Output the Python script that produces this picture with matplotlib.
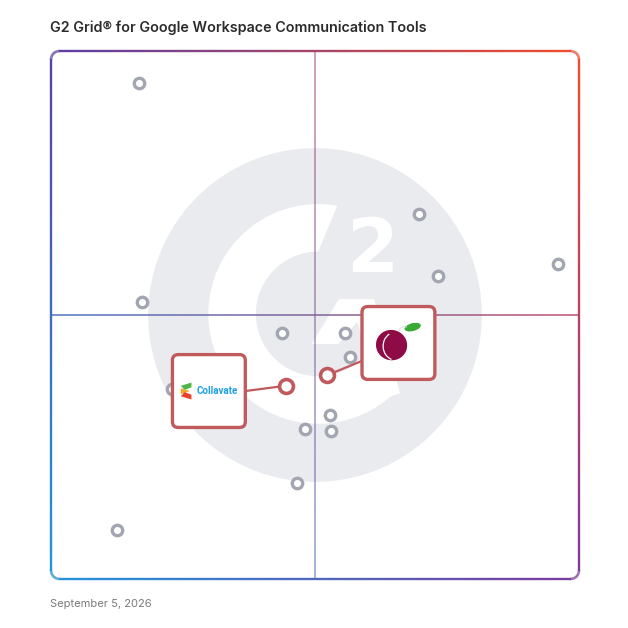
import numpy as np
import matplotlib.pyplot as plt
from matplotlib.patches import Circle, Polygon, FancyBboxPatch, Ellipse, Arc
from matplotlib.collections import LineCollection
from matplotlib.colors import to_rgb

# G2 grid: satisfaction (x) vs market presence (y), 0-100 scale
other_x = [16.7, 69.7, 96.0, 73.3, 17.2, 43.8, 55.7, 56.6, 52.8, 48.1, 53.0, 46.6, 12.5, 23.0]
other_y = [93.9, 69.1, 59.7, 57.4, 52.5, 46.6, 46.6, 42.0, 31.1, 28.4, 28.0, 18.2, 9.3, 36.0]

highlight_names = ["Collavate", "Plum"]
highlight_x = [44.5, 52.3]
highlight_y = [36.6, 38.6]

title = "G2 Grid\u00ae for Google Workspace Communication Tools"
date_label = "September 5, 2026"

red = "#c05a5c"
grey_pt = "#a2a6b1"
logo_bg = "#e9ebef"

fig = plt.figure(figsize=(6.28, 6.28), dpi=100)
ax = fig.add_axes([51 / 628, 49 / 628, 528 / 628, 528 / 628])
ax.set_xlim(0, 100)
ax.set_ylim(0, 100)
ax.axis("off")

# corner colours of the gradient frame
c_tl = np.array(to_rgb("#5a3fa6"))
c_tr = np.array(to_rgb("#f24c2c"))
c_bl = np.array(to_rgb("#2196dc"))
c_br = np.array(to_rgb("#7d3a9e"))

def grad_color(x, y):
    u = np.clip(x / 100, 0, 1)
    v = np.clip(y / 100, 0, 1)
    top = c_tl * (1 - u) + c_tr * u
    bot = c_bl * (1 - u) + c_br * u
    return bot * (1 - v) + top * v

def grad_line(xs, ys, lw, alpha=1.0, z=3):
    pts = np.column_stack([xs, ys])
    segs = np.stack([pts[:-1], pts[1:]], axis=1)
    mids = (pts[:-1] + pts[1:]) / 2
    cols = [tuple(grad_color(mx, my)) + (alpha,) for mx, my in mids]
    lc = LineCollection(segs, colors=cols, linewidths=lw, zorder=z, clip_on=False,
                        capstyle="butt")
    ax.add_collection(lc)

# background G2 logo
ax.add_patch(Circle((50, 50), 31.6, color=logo_bg, zorder=0, lw=0))
cx, cy, r_out, r_in = 50.6, 50.2, 20.8, 11.8
a_out = np.radians(np.linspace(80, 312, 120))
a_in = np.radians(np.linspace(312, 90, 120))
ring = np.vstack([np.column_stack([cx + r_out * np.cos(a_out), cy + r_out * np.sin(a_out)]),
                  np.column_stack([cx + r_in * np.cos(a_in), cy + r_in * np.sin(a_in)])])
ax.add_patch(Polygon(ring, closed=True, color="white", zorder=0.5, lw=0))
ax.add_patch(Polygon([(49.4, 44.5), (54.5, 53.0), (61.2, 53.0), (66.1, 35.2),
                      (62.5, 33.9), (58.0, 48.7), (54.4, 44.5)],
                     closed=True, color="white", zorder=0.5, lw=0))
ax.text(60.8, 62.0, "2", color="white", fontsize=54, fontweight="bold",
        ha="center", va="center", zorder=0.6, family="DejaVu Sans")

# crosshair
t = np.linspace(0, 100, 200)
grad_line(np.full_like(t, 50), t, 1.2, alpha=0.6, z=1)
grad_line(t, np.full_like(t, 50), 1.2, alpha=0.85, z=1)

# rounded gradient frame
r = 1.6
path = []
corners = [((100 - r, 100 - r), 0, 90), ((r, 100 - r), 90, 180),
           ((r, r), 180, 270), ((100 - r, r), 270, 360)]
for (kx, ky), a0, a1 in corners:
    ang = np.radians(np.linspace(a0, a1, 12))
    path.append(np.column_stack([kx + r * np.cos(ang), ky + r * np.sin(ang)]))
path = np.vstack(path + [path[0][:1]])
xs, ys = [], []
for i in range(len(path) - 1):
    seg = np.linspace(path[i], path[i + 1], 30, endpoint=False)
    xs.extend(seg[:, 0])
    ys.extend(seg[:, 1])
xs.append(path[-1, 0])
ys.append(path[-1, 1])
grad_line(np.array(xs), np.array(ys), 1.7, z=3)

# other products
ax.plot(other_x, other_y, "o", ms=7.5, mfc="white", mec=grey_pt, mew=2.4, zorder=4, ls="none")

# highlighted products with label boxes
box_offsets = [(-14.6, -1.0), (13.5, 6.1)]
box_half = 6.9
for name, hx, hy, (dx, dy) in zip(highlight_names, highlight_x, highlight_y, box_offsets):
    bx, by = hx + dx, hy + dy
    ex = bx + box_half if dx < 0 else bx - box_half
    ey = by if dx < 0 else by - 3.4
    ax.plot([ex, hx], [ey, hy], color=red, lw=1.6, zorder=5, solid_capstyle="butt")
    ax.plot(hx, hy, "o", ms=10, mfc="white", mec=red, mew=2.6, zorder=7)
    ax.add_patch(FancyBboxPatch((bx - box_half, by - box_half), 2 * box_half, 2 * box_half,
                                boxstyle="round,pad=0,rounding_size=1.1",
                                fc="white", ec=red, lw=2.4, zorder=6))
    if name == "Collavate":
        ix, iy = bx - 4.3, by
        ax.add_patch(Polygon([(ix - 1.0, iy + 1.0), (ix + 1.0, iy + 1.6), (ix + 1.0, iy + 0.7),
                              (ix - 0.3, iy + 0.2)], color="#4cb748", zorder=7, lw=0))
        ax.add_patch(Polygon([(ix - 1.0, iy + 0.5), (ix + 0.7, iy), (ix - 1.0, iy - 0.6)],
                             color="#f5a623", zorder=7, lw=0))
        ax.add_patch(Polygon([(ix - 0.3, iy - 0.2), (ix + 1.0, iy - 0.7), (ix + 1.0, iy - 1.6),
                              (ix - 1.0, iy - 1.0)], color="#e8442c", zorder=7, lw=0))
        ax.text(bx + 1.5, by, "Collavate", color="#1ea0e6", fontsize=7, fontweight="bold",
                ha="center", va="center", zorder=7, family="Roboto")
    else:
        px, py = bx - 1.3, by - 0.4
        ax.add_patch(Ellipse((px, py), 6.2, 6.0, angle=-20, fc="#8e0b45", ec="white",
                             lw=1.0, zorder=7))
        ax.add_patch(Arc((px + 0.9, py - 0.2), 5.0, 5.4, angle=0, theta1=120, theta2=250,
                         color="white", lw=0.9, zorder=8))
        ax.add_patch(Ellipse((px + 4.0, py + 3.4), 3.4, 1.7, angle=15, fc="#3aaa35",
                             ec="white", lw=0.8, zorder=7))
        ax.add_patch(Arc((px + 2.4, py + 2.5), 2.0, 2.0, theta1=60, theta2=180,
                         color="#d8d8d8", lw=0.7, zorder=7))

fig.text(50 / 628, 1 - 28 / 628, title, fontsize=10.3, fontweight="semibold",
         color="#2b2b2b", ha="left", va="center", family="Inter")
fig.text(50 / 628, 1 - 604 / 628, date_label, fontsize=8, color="#7a7a7a",
         ha="left", va="center", family="Inter")

fig.savefig("out.png", dpi=100)
